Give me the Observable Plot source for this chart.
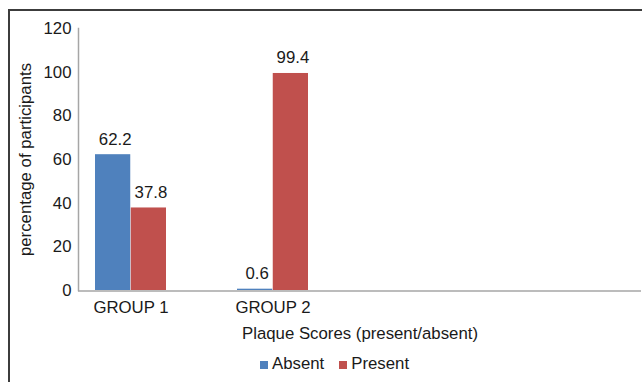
<!DOCTYPE html>
<html>
<head>
<meta charset="utf-8">
<script src="https://cdn.jsdelivr.net/npm/d3@7"></script>
<script src="https://cdn.jsdelivr.net/npm/@observablehq/plot@0.6"></script>
<style>
  html, body { margin: 0; padding: 0; background: #fff; }
  #chart { position: relative; width: 642px; height: 382px; overflow: hidden; font-family: "Liberation Sans", Arial, sans-serif; }
  #plot { position: absolute; left: 0; top: 0; }
  #legend { position: absolute; left: 260px; top: 354px; }
  #border { position: absolute; left: 8px; top: 9px; right: -4px; bottom: -4px; border-top: 2px solid #3c3c3c; border-left: 2px solid #3c3c3c; pointer-events: none; }
  .plaque-swatch { align-items: baseline !important; margin-right: 15px !important; }
  .plaque-swatch > svg { margin-right: 4px !important; }
</style>
</head>
<body>
<div id="chart">
  <div id="plot"></div>
  <div id="legend"></div>
  <div id="border"></div>
</div>
<script>
// Plaque scores by group: share of participants with plaque absent / present
const groups = ["GROUP 1", "GROUP 2"];
const series = ["Absent", "Present"];
const absentValues = [62.2, 0.6];
const presentValues = [37.8, 99.4];
const yTicks = [0, 20, 40, 60, 80, 100, 120];
const seriesColors = ["#4F81BD", "#C0504D"];

const rows = groups.flatMap((g, i) => [
  {group: g, series: "Absent", value: absentValues[i]},
  {group: g, series: "Present", value: presentValues[i]}
]);
const absentRows = rows.filter(d => d.series === "Absent");
const presentRows = rows.filter(d => d.series === "Present");

// each group band holds the two bars side by side
const bandWidth = 71.5;
const half = bandWidth / 2;
const font = "Liberation Sans, Arial, sans-serif";
const fontSize = "16.8px";
const axisGray = "#a6a6a6";

const chart = Plot.plot({
  width: 642,
  height: 345,
  marginLeft: 78,
  marginRight: 1,
  marginTop: 28,
  marginBottom: 55,
  style: {fontFamily: font, fontSize, color: "#1a1a1a", background: "transparent", overflow: "visible"},
  x: {domain: groups, range: [95, 308.5], paddingInner: 0.4965, paddingOuter: 0},
  y: {domain: [0, 120]},
  color: {domain: series, range: seriesColors},
  marks: [
    Plot.frame({anchor: "left", stroke: axisGray, strokeWidth: 1.5}),
    Plot.ruleY([0], {stroke: axisGray, strokeWidth: 1.5, dy: 0.5}),
    Plot.barY(absentRows, {x: "group", y: "value", fill: "series", insetLeft: 0, insetRight: half}),
    Plot.barY(presentRows, {x: "group", y: "value", fill: "series", insetLeft: half, insetRight: 0}),
    Plot.text(absentRows, {x: "group", y: "value", text: d => d.value.toFixed(1), dx: -half / 2 + 2, dy: -15.5, fill: "#1a1a1a"}),
    Plot.text(presentRows, {x: "group", y: "value", text: d => d.value.toFixed(1), dx: half / 2 + 2, dy: -15.5, fill: "#1a1a1a"}),
    Plot.axisY({ticks: yTicks, tickSize: 0, tickPadding: 7, label: "percentage of participants", labelAnchor: "center", labelOffset: 59.5, labelArrow: "none"}),
    Plot.axisX({tickSize: 0, tickPadding: 10.5, label: "Plaque Scores (present/absent)", labelAnchor: "center", labelOffset: 48.5, labelArrow: "none"})
  ]
});
document.getElementById("plot").append(chart);

const legend = Plot.legend({
  color: {domain: series, range: seriesColors},
  legend: "swatches",
  swatchSize: 8,
  className: "plaque",
  style: {fontFamily: font, fontSize, color: "#1a1a1a", minHeight: "0", margin: "0", lineHeight: "normal"}
});
document.getElementById("legend").append(legend);
</script>
</body>
</html>
